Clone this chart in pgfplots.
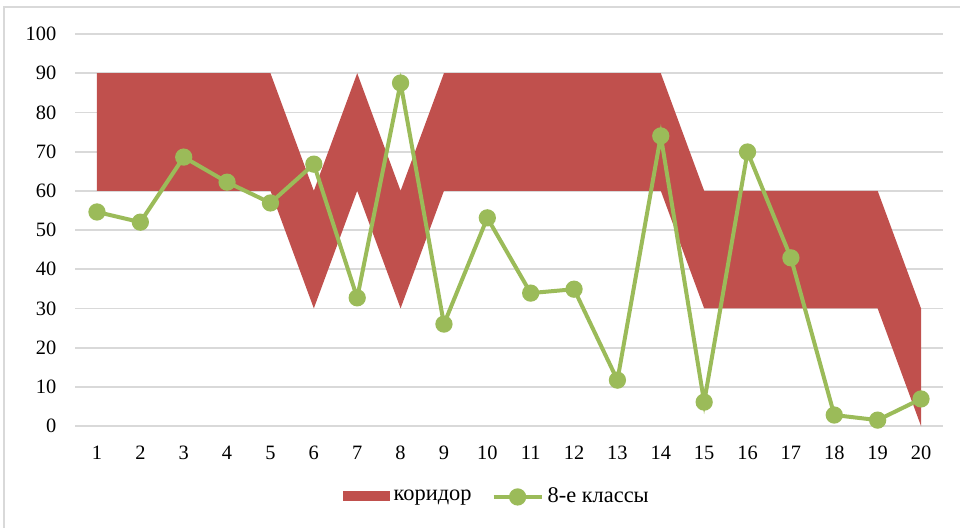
\documentclass[border=0pt]{standalone}
\usepackage{pgfplots}
\pgfplotsset{compat=1.18}
\usepackage{fontspec}
\setmainfont{Liberation Serif}
\definecolor{corr}{HTML}{C0504D}
\definecolor{grn}{HTML}{9BBB59}
\definecolor{gridc}{HTML}{D9D9D9}
\begin{document}
\begin{tikzpicture}
\path[use as bounding box] (0,0) rectangle (480pt,263.5pt);
\begin{scope}
\clip (0,0) rectangle (480pt,263.5pt);
\draw[gridc, line width=1pt] (2pt,-10pt) rectangle (500pt,260pt);
\end{scope}
\begin{axis}[
  at={(37.65pt,50.5pt)}, anchor=south west,
  scale only axis, width=433.7pt, height=196pt,
  xmin=0.5, xmax=20.5, ymin=0, ymax=100,
  xtick={1,...,20}, ytick={0,10,...,100},
  axis line style={draw=none},
  major tick length=0pt,
  ymajorgrids, grid style={gridc, line width=0.9pt},
  /pgf/number format/assume math mode=true,
  tick label style={font=\fontsize{10.2}{12}\selectfont},
  xticklabel style={yshift=-6.5pt},
  yticklabel style={xshift=-6pt},
  clip=false,
  legend style={at={(0.487,-0.181)}, anchor=center, draw=none, fill=none,
    font=\fontsize{11.2}{13}\selectfont, legend columns=2,
    /tikz/every even column/.append style={column sep=8pt}},
]
\addplot[fill=corr, draw=none,
  legend image code/.code={\fill[corr] (0pt,-2.2pt) rectangle (23.5pt,2.8pt);}]
coordinates {
(1,90) (2,90) (3,90) (4,90) (5,90) (6,60) (7,90) (8,60) (9,90) (10,90)
(11,90) (12,90) (13,90) (14,90) (15,60) (16,60) (17,60) (18,60) (19,60) (20,30)
(20,0) (19,30) (18,30) (17,30) (16,30) (15,30) (14,60) (13,60) (12,60) (11,60)
(10,60) (9,60) (8,30) (7,60) (6,30) (5,60) (4,60) (3,60) (2,60) (1,60)} -- cycle;
\addlegendentry{коридор}
\addplot[grn, line width=2pt, mark=*, mark size=3.3pt, mark options={fill=grn, draw=grn},
  legend image code/.code={\draw[mark repeat=2, mark phase=2] plot coordinates {(0pt,0pt) (12pt,0pt) (24pt,0pt)};}]
coordinates {
(1,54.6) (2,52.0) (3,68.6) (4,62.2) (5,56.9) (6,66.8) (7,32.7) (8,87.5) (9,26.0) (10,53.1)
(11,33.9) (12,34.9) (13,11.7) (14,74.0) (15,6.1) (16,69.9) (17,42.9) (18,2.8) (19,1.5) (20,6.9)};
\addlegendentry{8-е классы}
\end{axis}
\end{tikzpicture}
\end{document}
